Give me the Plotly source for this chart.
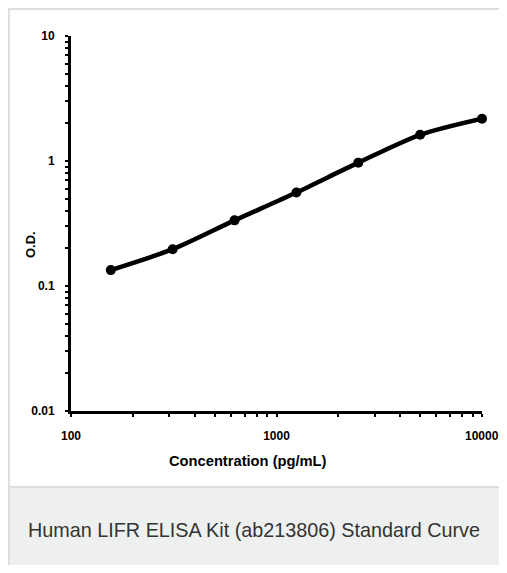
import plotly.graph_objects as go

concentration = [156.25, 312.5, 625, 1250, 2500, 5000, 10000]
od_values = [0.134, 0.197, 0.335, 0.56, 0.97, 1.62, 2.18]

x_tick_vals = [100, 200, 300, 400, 500, 600, 700, 800, 900, 1000,
               2000, 3000, 4000, 5000, 6000, 7000, 8000, 9000, 10000]
x_tick_text = ["100"] + [""] * 8 + ["1000"] + [""] * 8 + ["10000"]
y_tick_vals = [0.01, 0.02, 0.03, 0.04, 0.05, 0.06, 0.07, 0.08, 0.09,
               0.1, 0.2, 0.3, 0.4, 0.5, 0.6, 0.7, 0.8, 0.9,
               1, 2, 3, 4, 5, 6, 7, 8, 9, 10]
y_tick_text = ["0.01"] + [""] * 8 + ["0.1"] + [""] * 8 + ["1"] + [""] * 8 + ["10"]

x_title = "Concentration (pg/mL)"
y_title = "O.D."
caption = "Human LIFR ELISA Kit (ab213806) Standard Curve"

# the page body has an 8px margin on every side; keep the figure inside the 507x573 window
OFF = 8
W, H = 507 - 2 * OFF, 573 - 2 * OFF
L, T = 71 - OFF, 36 - OFF
R = W - (482 - OFF)
B = H - (411 - OFF)
pw, ph = W - L - R, H - T - B

def px(x):  # window x -> paper fraction
    return (x - OFF - L) / pw

def py(y):  # window y -> paper fraction
    return (H - B - (y - OFF)) / ph

sans = "Liberation Sans, Arial"
tick_font = dict(family=sans, size=12, color="black", weight="bold")

# the last x tick label sits at the very edge of the figure, where plotly would hide it,
# so it is written as an annotation anchored on the last tick value
axis_text = list(x_tick_text)
edge_label = axis_text[-1]
axis_text[-1] = ""

fig = go.Figure()
fig.add_trace(go.Scatter(
    x=concentration, y=od_values, mode="lines+markers",
    line=dict(color="black", width=4.5, shape="spline", smoothing=0.8),
    marker=dict(color="black", size=10),
    showlegend=False, hoverinfo="skip", cliponaxis=False))

fig.update_xaxes(type="log", range=[2, 4], showline=True, linecolor="black", linewidth=3,
                 showgrid=False, zeroline=False, ticks="outside", ticklen=3, tickwidth=2,
                 tickcolor="black", tickvals=x_tick_vals, ticktext=axis_text,
                 tickfont=tick_font, ticklabelstandoff=9)
fig.update_yaxes(type="log", range=[-2, 1], showline=True, linecolor="black", linewidth=3,
                 showgrid=False, zeroline=False, ticks="outside", ticklen=3, tickwidth=2,
                 tickcolor="black", tickvals=y_tick_vals, ticktext=y_tick_text,
                 tickfont=tick_font, ticklabelstandoff=8)

border = "#dedede"
shapes = [
    dict(type="rect", xref="paper", yref="paper", x0=px(8), x1=px(520), y0=py(487), y1=py(590),
         fillcolor="#eef0ef", line=dict(width=0), layer="below"),
    dict(type="line", xref="paper", yref="paper", x0=px(8), x1=px(520), y0=py(487), y1=py(487),
         line=dict(color=border, width=2), layer="below"),
    dict(type="line", xref="paper", yref="paper", x0=px(9), x1=px(9), y0=py(8), y1=py(590),
         line=dict(color=border, width=2), layer="below"),
    dict(type="line", xref="paper", yref="paper", x0=px(8), x1=px(520), y0=py(9), y1=py(9),
         line=dict(color=border, width=2), layer="below"),
]

import math
annotations = [
    dict(text=edge_label, xref="x", yref="paper", x=math.log10(x_tick_vals[-1]), y=py(436),
         showarrow=False, font=tick_font, xanchor="center", yanchor="middle"),
    dict(text=x_title, xref="paper", yref="paper", x=px(248), y=py(461), showarrow=False,
         font=dict(family=sans, size=14.7, color="black", weight="bold"),
         xanchor="center", yanchor="middle"),
    dict(text=y_title, xref="paper", yref="paper", x=px(30), y=py(245), showarrow=False, textangle=-90,
         font=dict(family=sans, size=13, color="black", weight="bold"),
         xanchor="center", yanchor="middle"),
    dict(text=caption, xref="paper", yref="paper", x=px(254), y=py(530), showarrow=False,
         font=dict(family=sans, size=19.8, color="#333333"),
         xanchor="center", yanchor="middle"),
]

fig.update_layout(width=W, height=H, margin=dict(l=L, r=R, t=T, b=B),
                  paper_bgcolor="white", plot_bgcolor="white",
                  shapes=shapes, annotations=annotations)

fig.write_html("out.html")
